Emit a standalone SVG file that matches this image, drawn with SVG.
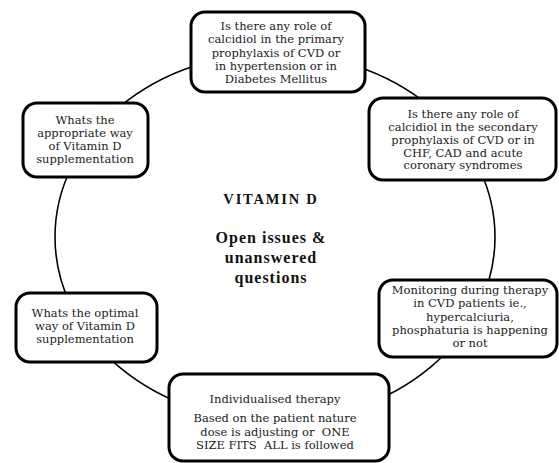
<svg xmlns="http://www.w3.org/2000/svg" width="559" height="463" viewBox="0 0 559 463">
<style>
.box{fill:#fff;stroke:#000;stroke-width:3}
.t{font-family:"DejaVu Serif","Liberation Serif",serif;font-size:11.5px;fill:#222;text-anchor:middle}
.c{font-family:"Liberation Serif",serif;font-weight:bold;fill:#111;text-anchor:middle}
.conn{fill:none;stroke:#000;stroke-width:1.6}
</style>
<rect width="559" height="463" fill="#fff"/>
<g id="connectors">
<ellipse class="conn" cx="275" cy="237" rx="220" ry="184"/>
</g>
<g id="center">
<text class="c" x="271" y="204" font-size="14.5" letter-spacing="1.8">VITAMIN D</text>
<text class="c" x="271" y="243" font-size="16" letter-spacing="1">Open issues &amp;</text>
<text class="c" x="271" y="263" font-size="16" letter-spacing="1">unanswered</text>
<text class="c" x="271" y="283" font-size="16" letter-spacing="1">questions</text>
</g>
<g id="node-top">
<rect class="box" x="191" y="12" width="174" height="80" rx="14"/>
<text class="t" x="276" y="30">Is there any role of</text>
<text class="t" x="276" y="43">calcidiol in the primary</text>
<text class="t" x="276" y="56.5">prophylaxis of CVD or</text>
<text class="t" x="276" y="69.5">in hypertension or in</text>
<text class="t" x="276" y="82.5">Diabetes Mellitus</text>
</g>
<g id="node-right-top">
<rect class="box" x="369" y="98" width="187" height="82" rx="14"/>
<text class="t" x="463" y="118">Is there any role of</text>
<text class="t" x="463" y="131">calcidiol in the secondary</text>
<text class="t" x="463" y="144">prophylaxis of CVD or in</text>
<text class="t" x="463" y="156.5">CHF, CAD and acute</text>
<text class="t" x="463" y="169">coronary syndromes</text>
</g>
<g id="node-left-top">
<rect class="box" x="23" y="103" width="125" height="74" rx="14"/>
<text class="t" x="85" y="124">Whats the</text>
<text class="t" x="85" y="137">appropriate way</text>
<text class="t" x="85" y="150">of Vitamin D</text>
<text class="t" x="85" y="163">supplementation</text>
</g>
<g id="node-right-bottom">
<rect class="box" x="379" y="280" width="178" height="77" rx="14"/>
<text class="t" x="470" y="294">Monitoring during therapy</text>
<text class="t" x="470" y="307">in CVD patients ie.,</text>
<text class="t" x="470" y="320.5">hypercalciuria,</text>
<text class="t" x="470" y="334">phosphaturia is happening</text>
<text class="t" x="470" y="347">or not</text>
</g>
<g id="node-left-bottom">
<rect class="box" x="16" y="293" width="141" height="69" rx="14"/>
<text class="t" x="85" y="317">Whats the optimal</text>
<text class="t" x="85" y="330">way of Vitamin D</text>
<text class="t" x="85" y="343">supplementation</text>
</g>
<g id="node-bottom">
<rect class="box" x="169" y="374" width="220" height="87" rx="14"/>
<text class="t" x="275" y="403">Individualised therapy</text>
<text class="t" x="275" y="422">Based on the patient nature</text>
<text class="t" x="275" y="436" xml:space="preserve">dose is adjusting or  ONE</text>
<text class="t" x="275" y="449" xml:space="preserve">SIZE FITS  ALL is followed</text>
</g>
</svg>
